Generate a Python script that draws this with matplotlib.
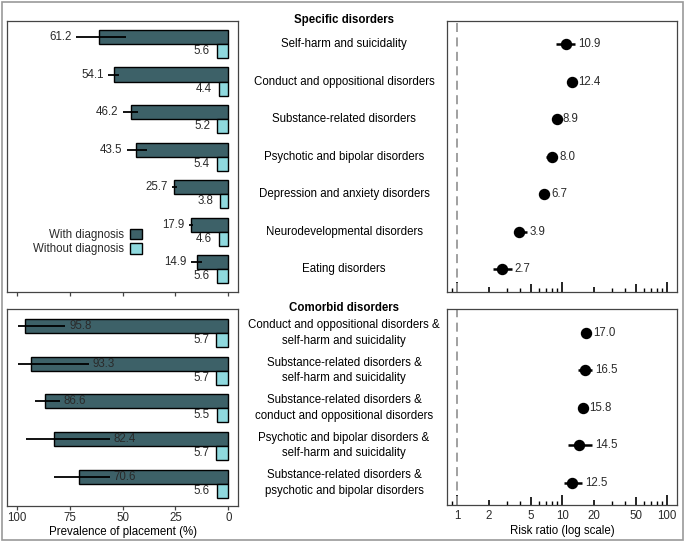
import numpy as np
import matplotlib
matplotlib.use('Agg')
import matplotlib.pyplot as plt
from matplotlib.patches import Patch, Rectangle
from matplotlib.transforms import blended_transform_factory
from matplotlib.ticker import FixedLocator, NullFormatter

plt.rcParams['font.family'] = ['Liberation Sans', 'DejaVu Sans']
plt.rcParams['font.size'] = 8.3

# data
specific_labels = ['Self-harm and suicidality', 'Conduct and oppositional disorders',
                   'Substance-related disorders', 'Psychotic and bipolar disorders',
                   'Depression and anxiety disorders', 'Neurodevelopmental disorders',
                   'Eating disorders']
specific_with = [61.2, 54.1, 46.2, 43.5, 25.7, 17.9, 14.9]
specific_with_lo = [48.5, 51.6, 42.6, 38.6, 24.3, 16.8, 12.5]
specific_with_hi = [72.0, 56.8, 50.0, 48.1, 26.7, 18.8, 17.7]
specific_without = [5.6, 4.4, 5.2, 5.4, 3.8, 4.6, 5.6]
specific_rr = [10.9, 12.4, 8.9, 8.0, 6.7, 3.9, 2.7]
specific_rr_lo = [8.7, 11.6, 8.3, 7.0, 6.0, 3.5, 2.2]
specific_rr_hi = [13.2, 13.3, 9.5, 8.9, 7.4, 4.6, 3.3]

comorbid_labels = ['Conduct and oppositional disorders &\nself-harm and suicidality',
                   'Substance-related disorders &\nself-harm and suicidality',
                   'Substance-related disorders &\nconduct and oppositional disorders',
                   'Psychotic and bipolar disorders &\nself-harm and suicidality',
                   'Substance-related disorders &\npsychotic and bipolar disorders']
comorbid_with = [95.8, 93.3, 86.6, 82.4, 70.6]
comorbid_with_lo = [77.0, 66.0, 79.7, 56.0, 56.0]
comorbid_with_hi = [99.5, 99.5, 91.3, 95.3, 82.1]
comorbid_without = [5.7, 5.7, 5.5, 5.7, 5.6]
comorbid_rr = [17.0, 16.5, 15.8, 14.5, 12.5]
comorbid_rr_lo = [15.6, 14.0, 14.8, 11.4, 10.4]
comorbid_rr_hi = [18.4, 19.1, 16.8, 19.1, 15.6]

prev_ticks = [100, 75, 50, 25, 0]
rr_ticks = [1, 2, 5, 10, 20, 50, 100]
rr_minor = [0.9, 3, 4, 6, 7, 8, 9, 30, 40, 60, 70, 80, 90]
# tick lengths (pt) for the labelled log ticks
rr_tick_len = [7, 3.5, 5.5, 7, 3.5, 5.5, 7]

dark = '#3d6168'
light = '#8fd9de'
numcol = '#2a2a2a'
spinecol = '#444444'

W, H = 685, 542
fig = plt.figure(figsize=(W / 100, H / 100), dpi=100)


def px_axes(x0, y0, x1, y1):
    # axes placed by pixel box (top-left origin)
    return fig.add_axes([x0 / W, 1 - y1 / H, (x1 - x0) / W, (y1 - y0) / H])


def style_spines(ax):
    for s in ax.spines.values():
        s.set_color(spinecol)
        s.set_linewidth(0.9)


def draw_prevalence(ax, with_v, lo, hi, without_v, n, inside_labels, show_labels):
    y = np.arange(n)
    bh = 0.373
    ax.barh(y - bh / 2, with_v, height=bh, color=dark, edgecolor='black', linewidth=1.0)
    ax.barh(y + bh / 2, without_v, height=bh, color=light, edgecolor='black', linewidth=1.0)
    ax.hlines(y - bh / 2, lo, hi, color='black', linewidth=1.3)
    for i in range(n):
        if inside_labels:
            ax.annotate(f'{with_v[i]:.1f}', (lo[i], i - bh / 2), xytext=(4, 0),
                        textcoords='offset pixels', ha='left', va='center', color=numcol)
        else:
            ax.annotate(f'{with_v[i]:.1f}', (hi[i], i - bh / 2), xytext=(-4, 0),
                        textcoords='offset pixels', ha='right', va='center', color=numcol)
        ax.annotate(f'{without_v[i]:.1f}', (without_v[i], i + bh / 2), xytext=(-7, 0),
                    textcoords='offset pixels', ha='right', va='center', color=numcol)
    ax.set_xlim(104.5, -4.5)
    ax.set_yticks([])
    ax.set_xticks(prev_ticks)
    ax.tick_params(axis='x', direction='out', length=3, width=0.9, pad=1, colors=spinecol,
                   labelcolor=numcol)
    if not show_labels:
        ax.set_xticklabels([])
    style_spines(ax)


def draw_rr(ax, rr, lo, hi, n, show_labels):
    y = np.arange(n)
    ax.axvline(1, color='#999999', linestyle=(0, (5, 3)), linewidth=1.3)
    ax.hlines(y, lo, hi, color='black', linewidth=1.8)
    ax.plot(rr, y, 'o', color='black', markersize=7.2)
    for i in range(n):
        ax.annotate(f'{rr[i]:.1f}', (hi[i], i), xytext=(3, 0), textcoords='offset pixels',
                    ha='left', va='center', color=numcol)
    ax.set_xscale('log')
    ax.set_xlim(0.8, 124)
    ax.set_yticks([])
    ax.xaxis.set_major_locator(FixedLocator(rr_ticks))
    ax.xaxis.set_minor_locator(FixedLocator(rr_minor))
    ax.xaxis.set_minor_formatter(NullFormatter())
    if show_labels:
        ax.set_xticklabels([str(t) for t in rr_ticks])
    else:
        ax.set_xticklabels([])
    ax.tick_params(axis='x', which='major', direction='in', length=7, width=1.2, pad=3.5,
                   colors='black', labelcolor=numcol)
    ax.tick_params(axis='x', which='minor', direction='in', length=2.8, width=1.0, colors='black')
    for tick, ln in zip(ax.xaxis.get_major_ticks(), rr_tick_len):
        tick.tick1line.set_markersize(ln)
    style_spines(ax)


ax_lt = px_axes(7, 21, 238, 292)
ax_lb = px_axes(7, 309, 238, 506)
ax_rt = px_axes(447, 21, 677, 292)
ax_rb = px_axes(447, 309, 677, 505)

n1, n2 = len(specific_labels), len(comorbid_labels)
draw_prevalence(ax_lt, specific_with, specific_with_lo, specific_with_hi, specific_without, n1, False, False)
draw_prevalence(ax_lb, comorbid_with, comorbid_with_lo, comorbid_with_hi, comorbid_without, n2, True, True)
draw_rr(ax_rt, specific_rr, specific_rr_lo, specific_rr_hi, n1, False)
draw_rr(ax_rb, comorbid_rr, comorbid_rr_lo, comorbid_rr_hi, n2, True)

ax_lt.set_ylim(n1 - 0.4, -0.61)
ax_rt.set_ylim(n1 - 0.4, -0.61)
ax_lb.set_ylim(n2 - 0.41, -0.64)
ax_rb.set_ylim(n2 - 0.41, -0.64)

ax_lb.set_xlabel('Prevalence of placement (%)', labelpad=2)
ax_rb.set_xlabel('Risk ratio (log scale)', labelpad=2)

# middle column labels
for ax, labels in [(ax_rt, specific_labels), (ax_rb, comorbid_labels)]:
    tr = blended_transform_factory(fig.transFigure, ax.transData)
    for i, lab in enumerate(labels):
        ax.text(344 / W, i, lab, transform=tr, ha='center', va='center',
                linespacing=1.42, clip_on=False)

fig.text(344 / W, 1 - 20 / H, 'Specific disorders', ha='center', va='center', fontweight='bold')
fig.text(344 / W, 1 - 308 / H, 'Comorbid disorders', ha='center', va='center', fontweight='bold')

# legend
handles = [Patch(facecolor=dark, edgecolor='black', linewidth=1.0, label='With diagnosis'),
           Patch(facecolor=light, edgecolor='black', linewidth=1.0, label='Without diagnosis')]
ax_lt.legend(handles=handles, loc='center right', bbox_to_anchor=((142 - 7) / 231, 1 - (242 - 21) / 271),
             frameon=False, markerfirst=False, handlelength=1.05, handleheight=1.05,
             handletextpad=0.5, labelspacing=0.2, borderpad=0, borderaxespad=0,
             labelcolor=numcol)

# outer border
fig.patches.append(Rectangle((2 / W, 2 / H), (W - 4) / W, (H - 4) / H, transform=fig.transFigure,
                             fill=False, edgecolor='#999999', linewidth=1.2))

fig.savefig('out.png', dpi=100)
